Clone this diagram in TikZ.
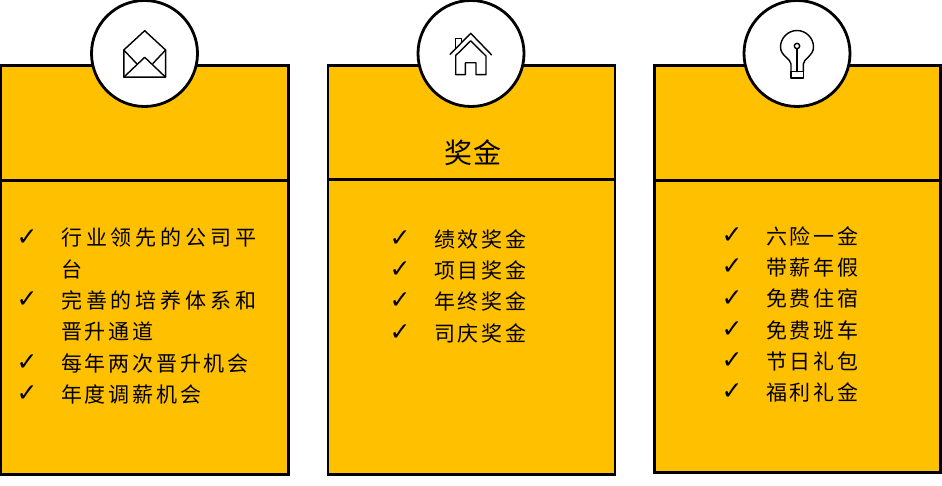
\documentclass[tikz,border=0pt]{standalone}
\usepackage{fontspec}
\newfontfamily\cjk[LetterSpace=13.3]{Noto Sans CJK SC}
\newfontfamily\cjkwide[LetterSpace=18.5]{Noto Sans CJK SC}
\newfontfamily\cjktitle[LetterSpace=2]{Noto Sans CJK SC}
\newfontfamily\symf{DejaVu Sans}
\definecolor{gold}{RGB}{255,192,0}
\tikzset{
  panel/.style={draw=black,line width=2.6pt,fill=gold},
  divider/.style={draw=black,line width=2.4pt},
  badge/.style={circle,draw=black,line width=2.8pt,fill=white,minimum size=106pt,inner sep=0pt},
  iconline/.style={draw=black,line width=1.4pt,line join=round,line cap=round},
  item/.style={anchor=west,inner sep=0pt,yshift=0.7pt,font=\fontsize{21}{21}\selectfont\cjk},
  itemwide/.style={anchor=west,inner sep=0pt,yshift=0.7pt,font=\fontsize{21}{21}\selectfont\cjkwide},
  tick/.style={anchor=center,inner sep=0pt,yshift=-1.5pt,font=\fontsize{25}{25}\selectfont\symf},
  heading/.style={anchor=center,inner sep=0pt,font=\fontsize{28}{28}\selectfont\cjktitle}
}
\begin{document}
\begin{tikzpicture}[x=1pt,y=-1pt]
\useasboundingbox (0,0) rectangle (942,486);
\fill[white] (0,0) rectangle (942,486);
% panels
\draw[panel] (1,65.5) rectangle (288.5,474.5);
\draw[panel] (328,65.5) rectangle (615,474.5);
\draw[panel] (654.5,65.5) rectangle (940.5,472.5);
\draw[divider] (1,180.5) -- (288.5,180.5);
\draw[divider] (328,179.5) -- (615,179.5);
\draw[divider] (654.5,180.5) -- (940.5,180.5);
% badges
\node[badge] (b1) at (144.5,53.5) {};
\node[badge] (b2) at (471,53.5) {};
\node[badge] (b3) at (797,53.5) {};
% envelope
\draw[iconline] (123.8,50) -- (144.7,30.7) -- (165.6,50) -- (165.6,77.2) -- (123.8,77.2) -- cycle;
\draw[iconline] (123.8,77.2) -- (144.7,57.3) -- (165.6,77.2);
\draw[iconline] (123.8,50) -- (136.5,63.5);
\draw[iconline] (165.6,50) -- (152.9,63.5);
% house
\draw[iconline] (450.2,54.3) -- (470.7,33.3) -- (491.5,54.8);
\draw[iconline] (455.7,55.5) -- (455.7,74.6) -- (465.4,74.6) -- (465.4,62.8) -- (476,62.8) -- (476,74.6) -- (486,74.6) -- (486,56) -- (470.7,40.8) -- (455.7,55.5);
\draw[iconline] (455.7,48.2) -- (455.7,38.5) -- (461.5,38.5) -- (461.5,42.5);
% bulb
\draw[iconline] (791,71.7) -- (791,64) .. controls (791,59) and (780.5,56) .. (780.5,47) .. controls (780.5,38) and (788,30.5) .. (797,30.5) .. controls (806,30.5) and (813.5,38) .. (813.5,47) .. controls (813.5,56) and (803.3,59) .. (803.3,64) -- (803.3,71.7);
\draw[iconline] (791,71.7) rectangle (803.3,78.2);
\draw[iconline] (797,48.8) -- (797,71.7);
\draw[iconline] (797,46) circle (2.7);
% heading
\node[heading] (h2) at (473,152.5) {奖金};
% left list
\node[tick] (t11) at (27,236) {✓};
\node[itemwide] (l11) at (61,238.5) {行业领先的公司平};
\node[item] (l12) at (61,270) {台};
\node[tick] (t12) at (27,298) {✓};
\node[itemwide] (l13) at (61,301) {完善的培养体系和};
\node[item] (l14) at (61,332.5) {晋升通道};
\node[tick] (t13) at (27,361) {✓};
\node[item] (l15) at (61,364) {每年两次晋升机会};
\node[tick] (t14) at (27,392) {✓};
\node[item] (l16) at (61,395) {年度调薪机会};
% middle list
\node[tick] (t21) at (400,237) {✓};
\node[item] (m1) at (434,240) {绩效奖金};
\node[tick] (t22) at (400,268) {✓};
\node[item] (m2) at (434,271) {项目奖金};
\node[tick] (t23) at (400,299) {✓};
\node[item] (m3) at (434,302.5) {年终奖金};
\node[tick] (t24) at (400,331) {✓};
\node[item] (m4) at (434,334) {司庆奖金};
% right list
\node[tick] (t31) at (732,234) {✓};
\node[item] (r1) at (766,237) {六险一金};
\node[tick] (t32) at (732,265) {✓};
\node[item] (r2) at (766,268) {带薪年假};
\node[tick] (t33) at (732,297) {✓};
\node[item] (r3) at (766,299.5) {免费住宿};
\node[tick] (t34) at (732,328) {✓};
\node[item] (r4) at (766,331) {免费班车};
\node[tick] (t35) at (732,359) {✓};
\node[item] (r5) at (766,362) {节日礼包};
\node[tick] (t36) at (732,390) {✓};
\node[item] (r6) at (766,393) {福利礼金};
\end{tikzpicture}
\end{document}
